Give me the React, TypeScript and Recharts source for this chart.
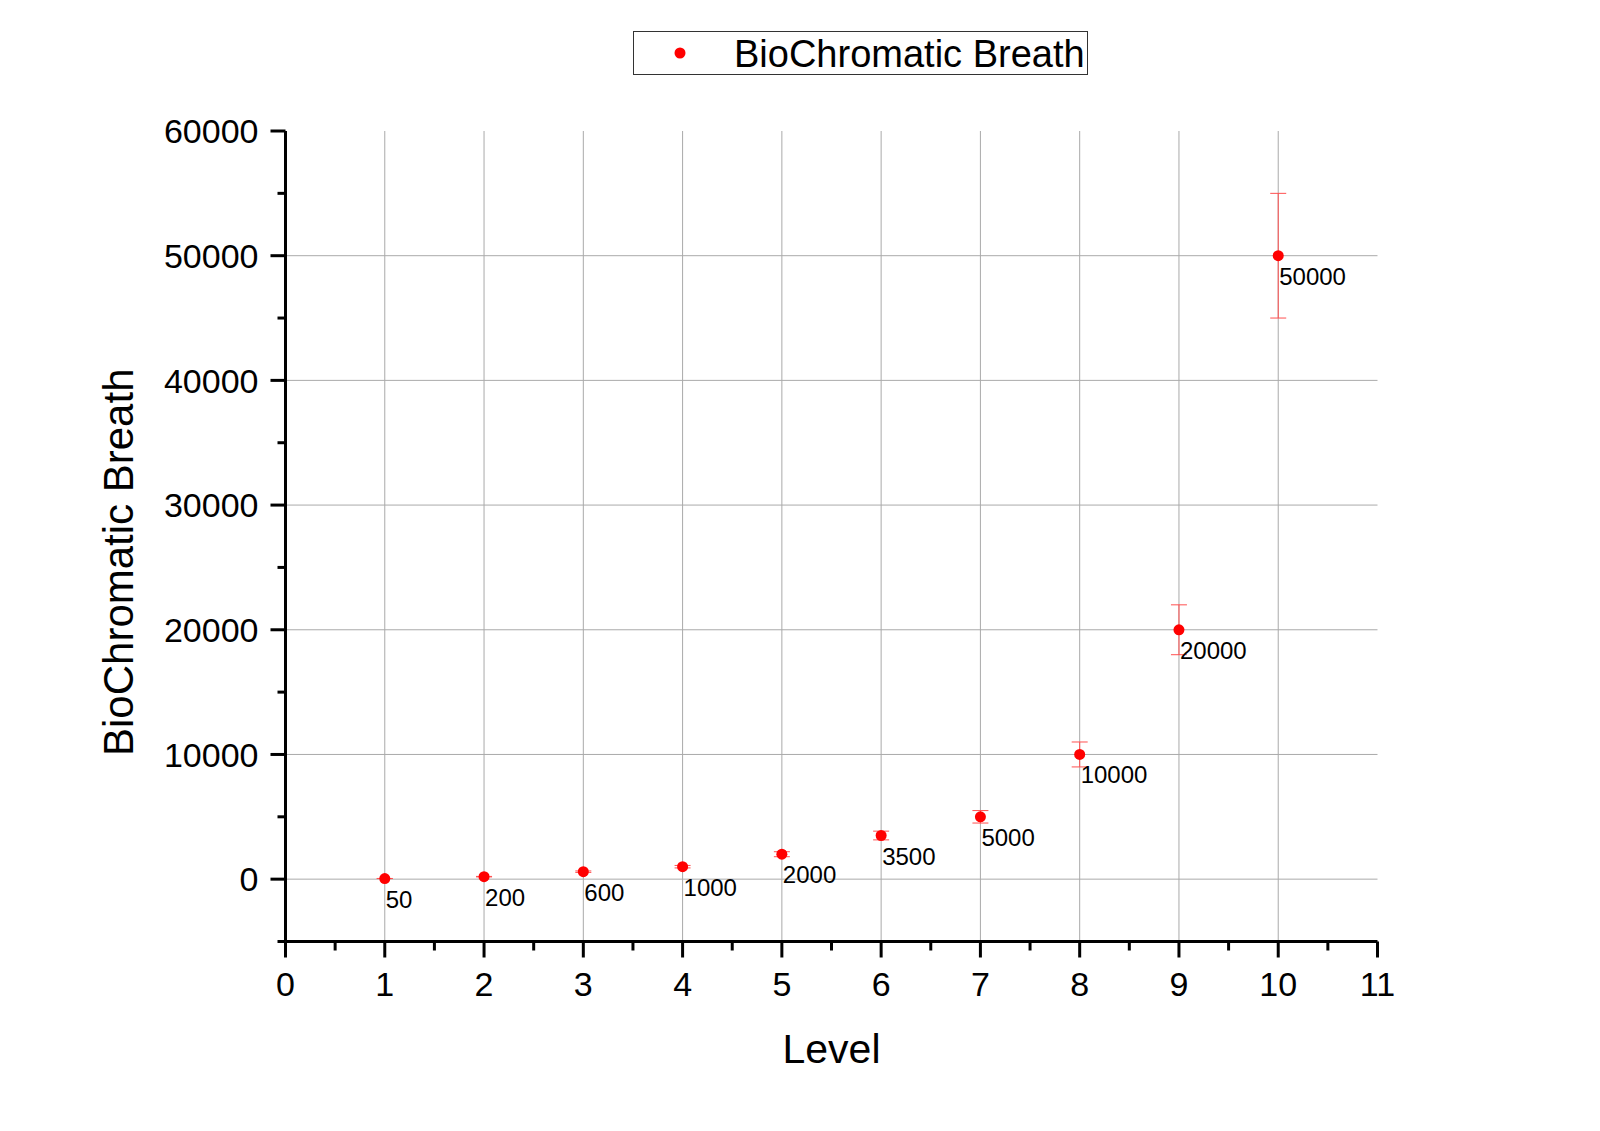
import React from 'react';
import { ScatterChart, Scatter, XAxis, YAxis, ErrorBar, ReferenceLine, Legend } from 'recharts';

const levels = [1, 2, 3, 4, 5, 6, 7, 8, 9, 10];
const breath = [50, 200, 600, 1000, 2000, 3500, 5000, 10000, 20000, 50000];
const breathError = [5, 20, 60, 100, 200, 350, 500, 1000, 2000, 5000];

const xTicks = [0, 0.5, 1, 1.5, 2, 2.5, 3, 3.5, 4, 4.5, 5, 5.5, 6, 6.5, 7, 7.5, 8, 8.5, 9, 9.5, 10, 10.5, 11];
const yTicks = [-5000, 0, 5000, 10000, 15000, 20000, 25000, 30000, 35000, 40000, 45000, 50000, 55000, 60000];
const xGrid = [1, 2, 3, 4, 5, 6, 7, 8, 9, 10];
const yGrid = [0, 10000, 20000, 30000, 40000, 50000];

const seriesName = 'BioChromatic Breath';
const FONT = '"Liberation Sans", Arial, Helvetica, sans-serif';

const data = levels.map((l, i) => ({ level: l, breath: breath[i], err: breathError[i] }));

const YTick = (props: any) => {
  const { x, y, payload } = props;
  const v = payload.value;
  const major = v % 10000 === 0;
  return (
    <g>
      <line x1={x} x2={x - (major ? 15 : 8)} y1={y} y2={y} stroke="#000" strokeWidth={3} />
      {major && (
        <text x={x - 27} y={y} dy="0.36em" textAnchor="end" fontSize={34} fontFamily={FONT} fill="#000">
          {v}
        </text>
      )}
    </g>
  );
};

const XTick = (props: any) => {
  const { x, y, payload } = props;
  const v = payload.value;
  const major = Number.isInteger(v);
  return (
    <g>
      <line x1={x} x2={x} y1={y} y2={y + (major ? 16 : 9)} stroke="#000" strokeWidth={3} />
      {major && (
        <text x={x} y={y + 54} textAnchor="middle" fontSize={34} fontFamily={FONT} fill="#000">
          {v}
        </text>
      )}
    </g>
  );
};

const Dot = (props: any) => {
  const { cx, cy, payload } = props;
  return (
    <g>
      <circle cx={cx} cy={cy} r={5.5} fill="#ff0000" />
      <text x={cx + 1} y={cy + 29} fontSize={24} fontFamily={FONT} fill="#000">
        {payload.breath}
      </text>
    </g>
  );
};

const XTitle = (props: any) => {
  const vb = props.viewBox || {};
  return (
    <text x={vb.x + vb.width / 2} y={vb.y + 121} textAnchor="middle" fontSize={41} fontFamily={FONT} fill="#000">
      Level
    </text>
  );
};

const YTitle = (props: any) => {
  const vb = props.viewBox || {};
  const cx = vb.x + vb.width - 152.5;
  const cy = vb.y + vb.height / 2 + 26;
  return (
    <text x={cx} y={cy} transform={`rotate(-90 ${cx} ${cy})`} textAnchor="middle" fontSize={42} fontFamily={FONT} fill="#000">
      {seriesName}
    </text>
  );
};

const LegendBox = (props: any) => {
  const name = props?.payload?.[0]?.value ?? seriesName;
  return (
    <div style={{ width: 455, height: 44, border: '1px solid #333', boxSizing: 'border-box', background: '#fff', position: 'relative' }}>
      <svg width={455} height={44} style={{ position: 'absolute', left: -1, top: -1, overflow: 'visible' }}>
        <circle cx={47} cy={22} r={5.5} fill="#ff0000" />
        <text x={101} y={36} fontSize={38} fontFamily={FONT} fill="#000">
          {name}
        </text>
      </svg>
    </div>
  );
};

export default function App() {
  return (
    <div style={{ width: 1592, height: 1115, background: '#fff' }}>
      <ScatterChart width={1592} height={1115} margin={{ top: 123, left: 197.5, right: 222.5, bottom: 141.5 }}>
        {xGrid.map((v) => (
          <ReferenceLine key={'vx' + v} x={v} stroke="#aaaaaa" strokeWidth={1} />
        ))}
        {yGrid.map((v) => (
          <ReferenceLine key={'hy' + v} y={v} stroke="#aaaaaa" strokeWidth={1} />
        ))}
        <XAxis
          type="number"
          dataKey="level"
          domain={[0, 11]}
          ticks={xTicks}
          interval={0}
          tickSize={0}
          tickMargin={0}
          tickLine={false}
          tick={<XTick />}
          height={40}
          axisLine={{ stroke: '#000', strokeWidth: 3 }}
          allowDataOverflow
          label={{ content: <XTitle /> }}
        />
        <YAxis
          type="number"
          dataKey="breath"
          domain={[-5000, 60000]}
          ticks={yTicks}
          interval={0}
          tickSize={0}
          tickMargin={0}
          tickLine={false}
          tick={<YTick />}
          width={80}
          axisLine={{ stroke: '#000', strokeWidth: 3 }}
          allowDataOverflow
          label={{ content: <YTitle /> }}
        />
        <Legend
          layout="horizontal"
          align="center"
          verticalAlign="middle"
          content={<LegendBox />}
          wrapperStyle={{ top: 23, left: 625, width: 455, height: 44 }}
        />
        <Scatter name={seriesName} data={data} dataKey="breath" fill="#ff0000" shape={<Dot />} isAnimationActive={false}>
          <ErrorBar dataKey="err" direction="y" width={8} stroke="#ff5050" strokeWidth={1} isAnimationActive={false} />
        </Scatter>
      </ScatterChart>
    </div>
  );
}
